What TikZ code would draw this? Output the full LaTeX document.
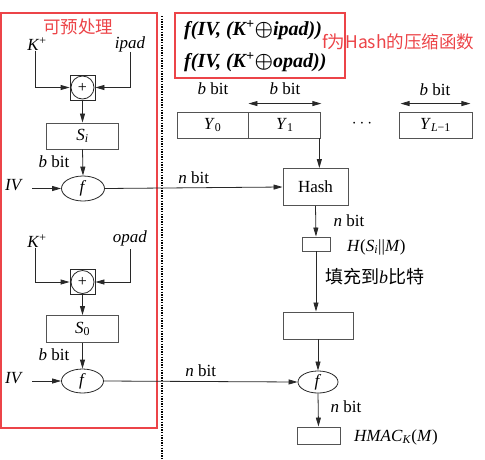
\documentclass[tikz,border=0pt]{standalone}
\usepackage{fontspec}
\setmainfont{Liberation Serif}
\newfontfamily\cjk{Noto Sans CJK SC}
\usetikzlibrary{arrows.meta,shapes.geometric}
\definecolor{hred}{RGB}{236,68,72}
\definecolor{lncol}{RGB}{40,40,40}
\begin{document}
\begin{tikzpicture}[x=1pt,y=-1pt,
  every node/.style={font=\fontsize{17}{19}\selectfont, inner sep=0pt},
  arr/.style={draw=lncol, line width=0.8pt, -{Triangle[length=9pt,width=5pt]}},
  darr/.style={draw=lncol, line width=0.8pt, {Triangle[length=9pt,width=5pt]}-{Triangle[length=9pt,width=5pt]}},
  box/.style={draw=lncol!80, line width=0.9pt, rectangle},
  fell/.style={draw=lncol, line width=0.8pt, ellipse, inner sep=0pt},
  xorbox/.style={draw=lncol, line width=0.8pt, rectangle, minimum size=25pt},
  xorc/.style={draw=lncol, line width=0.8pt, circle, minimum size=23pt, font=\fontsize{16}{16}\selectfont},
  redbox/.style={draw=hred, line width=1.8pt},
  redtxt/.style={text=hred, font=\cjk\fontsize{17.5}{19}\selectfont}
]
\useasboundingbox (0,0) rectangle (485,459);

% frames
\draw[redbox] (1,13) rectangle (157,428);
\draw[line width=1.3pt, dash pattern=on 1.3pt off 1.3pt] (162,16) -- (162,459);
\node[redtxt] (pre) at (78,27) {可预处理};

% upper left
\node (K1) at (37,44) {\textit{K}\textsuperscript{+}};
\node (ip) at (130,44) {\textit{ipad}};
\node[xorbox] (x1) at (82.5,87.5) {};
\node[xorc] (c1) at (x1) {+};
\draw[arr] ([xshift=-2pt]K1.south) |- (x1.west);
\draw[arr] (ip.south) |- (x1.east);
\node[box, minimum width=72pt, minimum height=26pt] (Si) at (82.5,136) {\textit{S}\textsubscript{\textit{i}}};
\draw[arr] (x1.south) -- (Si.north);
\node (bb1) at (54,162) {\textit{b} bit};
\node[fell, minimum width=43pt, minimum height=25pt] (f1) at (83,188.5) {\textit{f}};
\draw[arr] (Si.south) -- (f1.north);
\node (iv1) at (14,185) {\textit{IV}};
\coordinate (iv1s) at (32,188.5);
\draw[arr] (iv1s) -- (f1.west);

% lower left
\node (K2) at (37,241) {\textit{K}\textsuperscript{+}};
\node (op) at (130,238) {\textit{opad}};
\node[xorbox] (x2) at (82.5,282) {};
\node[xorc] (c2) at (x2) {+};
\draw[arr] ([xshift=-2pt]K2.south) |- (x2.west);
\draw[arr] ([yshift=-3pt]op.south) |- (x2.east);
\node[box, minimum width=72pt, minimum height=27pt] (S0) at (82.5,329) {\textit{S}\textsubscript{0}};
\draw[arr] (x2.south) -- (S0.north);
\node (bb2) at (54,355) {\textit{b} bit};
\node[fell, minimum width=42pt, minimum height=24pt] (f3) at (82.5,381) {\textit{f}};
\draw[arr] (S0.south) -- (f3.north);
\node (iv2) at (14,378) {\textit{IV}};
\coordinate (iv2s) at (32,381);
\draw[arr] (iv2s) -- (f3.west);

% title
\draw[redbox] (175,13) rectangle (345,78);
\node[anchor=west, font=\fontsize{20}{22}\selectfont\bfseries\itshape] (t1) at (184,30)
  {f(IV, (K\textsuperscript{+}{\boldmath$\oplus$}ipad))};
\node[anchor=west, font=\fontsize{20}{22}\selectfont\bfseries\itshape] (t2) at (184,62)
  {f(IV, (K\textsuperscript{+}{\boldmath$\oplus$}opad))};
\node[redtxt, anchor=west] (fnote) at (322,42) {f为Hash的压缩函数};

% message blocks
\node[box, minimum width=71pt, minimum height=26pt] (Y0) at (212.5,125) {\textit{Y}\textsubscript{0}};
\node[box, minimum width=72pt, minimum height=26pt, anchor=west] (Y1) at (Y0.east) {\textit{Y}\textsubscript{1}};
\node (dots) at (362,124) {$\cdots$};
\node[box, minimum width=73pt, minimum height=26pt] (YL) at (435.5,125) {\textit{Y}\textsubscript{\textit{L}−1}};
\node (lb0) at (213,89) {\textit{b} bit};
\node (lb1) at (285,89) {\textit{b} bit};
\node (lbL) at (435,90) {\textit{b} bit};
\draw[darr] ([yshift=8pt]Y1.north west) -- ([yshift=8pt]Y1.north east);
\draw[darr] ([xshift=2pt,yshift=8pt]YL.north west) -- ([xshift=-2pt,yshift=8pt]YL.north east);

% hash chain
\node[box, minimum width=65pt, minimum height=37pt] (H) at (315.5,187) {Hash};
\draw[arr] ([xshift=-2pt]Y1.south east) -- ([xshift=-2pt]Y1.south east |- H.north);
\draw[arr] (f1.east) -- (H.west) node[midway, above=4pt] (nb1) {\textit{n} bit};
\node[box, minimum width=28pt, minimum height=14pt] (hs) at (316,244) {};
\draw[arr] (H.south) -- (hs.north);
\node (nb2) at (349,221) {\textit{n} bit};
\node[anchor=west] (hsm) at (347,247) {\textit{H}(\textit{S}\textsubscript{\textit{i}}||\textit{M})};
\node[box, minimum width=70pt, minimum height=27pt] (big) at (318,325.5) {};
\draw[arr] (hs.south) -- (hs.south |- big.north);
\node[anchor=west, font=\cjk\fontsize{18}{20}\selectfont] (fill) at (325,277) {填充到{\rmfamily\itshape b}比特};
\node[fell, minimum width=40pt, minimum height=22pt] (f2) at (318,382) {\textit{f}};
\draw[arr] (big.south) -- (f2.north);
\draw[arr] (f3.east) -- (f2.west) node[midway, above=4pt] (nb3) {\textit{n} bit};
\node[box, minimum width=43pt, minimum height=17pt] (hm) at (318.5,435.5) {};
\draw[arr] (f2.south) -- (hm.north);
\node (nb4) at (346,407) {\textit{n} bit};
\node[anchor=west] (hmac) at (354,437) {\textit{HMAC}\textsubscript{\textit{K}}(\textit{M})};
\end{tikzpicture}
\end{document}
